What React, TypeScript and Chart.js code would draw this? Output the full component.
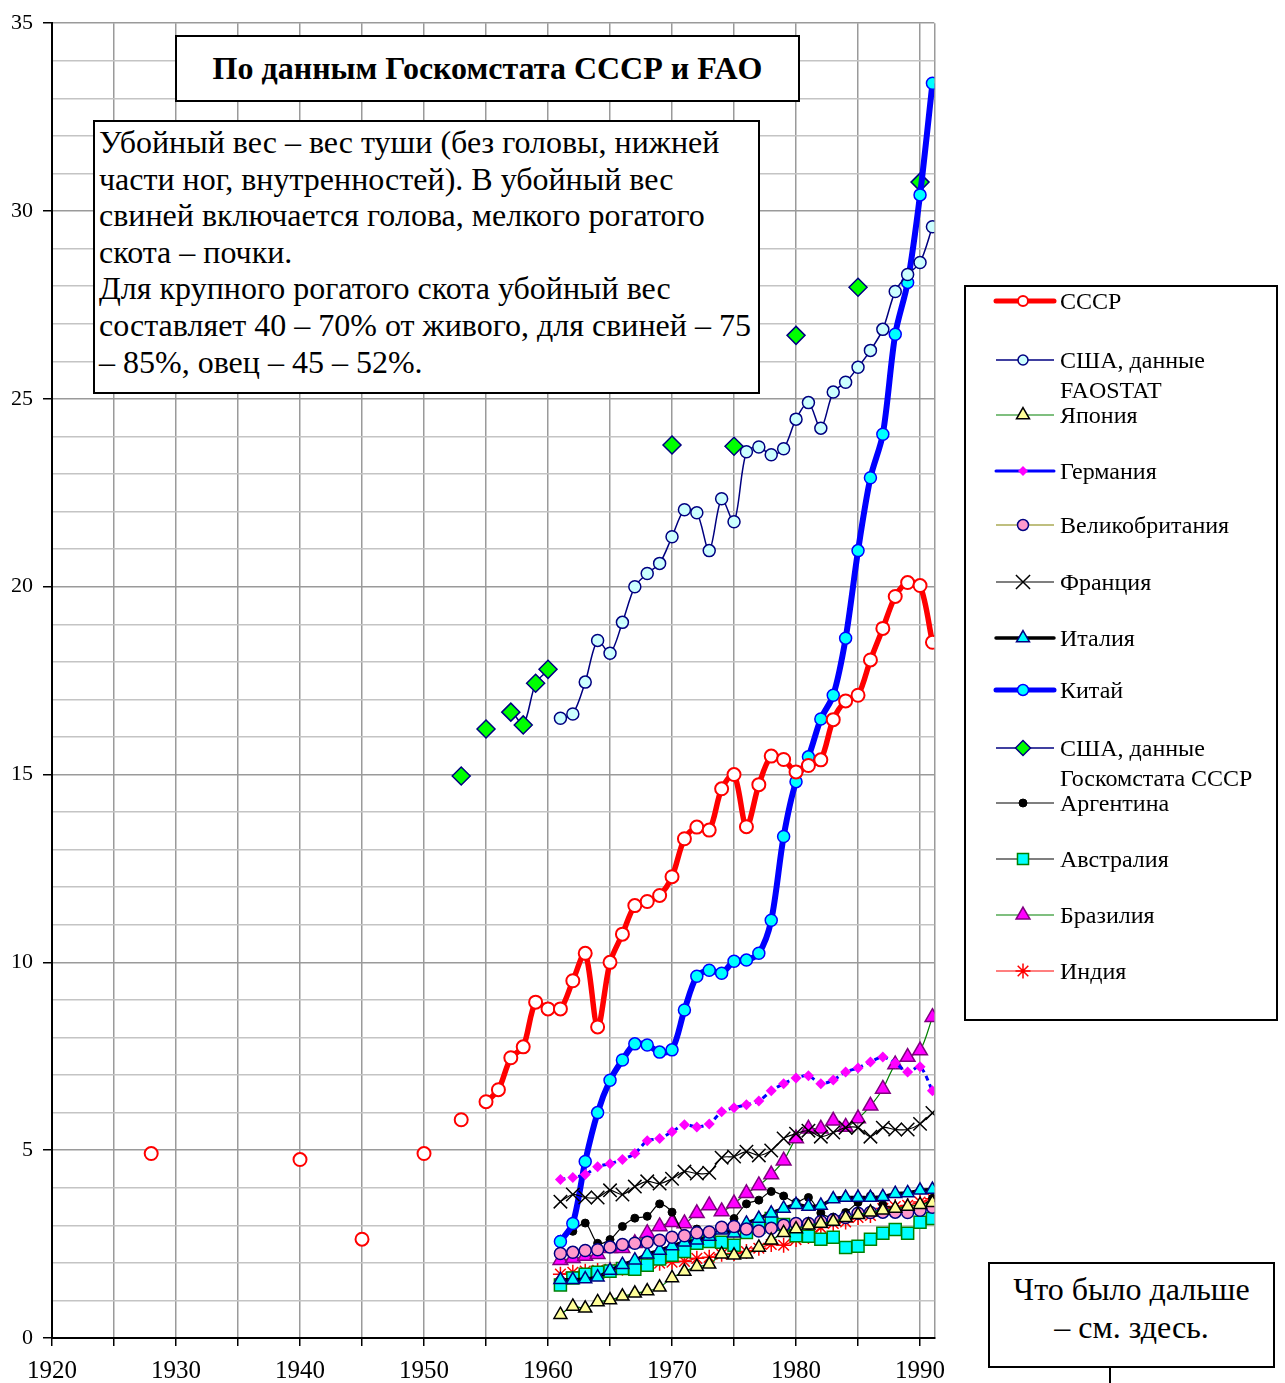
import React, { useEffect, useRef } from 'react';
import { Chart, registerables } from 'chart.js';
import { drawPoint } from 'chart.js/helpers';

Chart.register(...registerables);

const SERIF = '"Liberation Serif", "Times New Roman", serif';

// ---------------- data ----------------
const countryYears = [1961, 1962, 1963, 1964, 1965, 1966, 1967, 1968, 1969, 1970, 1971, 1972, 1973, 1974, 1975, 1976, 1977, 1978, 1979, 1980, 1981, 1982, 1983, 1984, 1985, 1986, 1987, 1988, 1989, 1990, 1991];

const ussrYears = [1928, 1940, 1945, 1950, 1953, 1955, 1956, 1957, 1958, 1959, 1960, 1961, 1962, 1963, 1964, 1965, 1966, 1967, 1968, 1969, 1970, 1971, 1972, 1973, 1974, 1975, 1976, 1977, 1978, 1979, 1980, 1981, 1982, 1983, 1984, 1985, 1986, 1987, 1988, 1989, 1990, 1991];
const ussrValues = [4.91, 4.75, 2.63, 4.91, 5.81, 6.29, 6.61, 7.46, 7.75, 8.94, 8.76, 8.76, 9.51, 10.24, 8.28, 10.0, 10.75, 11.51, 11.62, 11.78, 12.28, 13.29, 13.6, 13.52, 14.62, 15.0, 13.61, 14.73, 15.49, 15.4, 15.07, 15.24, 15.39, 16.46, 16.96, 17.11, 18.05, 18.89, 19.74, 20.11, 20.03, 18.52];

const usaFaoValues = [16.5, 16.61, 17.46, 18.57, 18.23, 19.05, 20.0, 20.35, 20.62, 21.33, 22.05, 21.97, 20.96, 22.34, 21.73, 23.59, 23.72, 23.51, 23.67, 24.46, 24.9, 24.22, 25.18, 25.44, 25.84, 26.29, 26.85, 27.86, 28.31, 28.63, 29.58];
const japanValues = [0.62, 0.84, 0.79, 0.96, 1.01, 1.11, 1.19, 1.25, 1.35, 1.6, 1.77, 1.9, 1.96, 2.23, 2.2, 2.23, 2.41, 2.6, 2.8, 2.9, 3.0, 3.05, 3.1, 3.2, 3.28, 3.35, 3.4, 3.45, 3.5, 3.55, 3.6];
const germanyValues = [4.22, 4.27, 4.35, 4.56, 4.64, 4.75, 4.91, 5.25, 5.31, 5.49, 5.68, 5.62, 5.7, 6.02, 6.13, 6.21, 6.31, 6.58, 6.77, 6.92, 6.98, 6.77, 6.87, 7.08, 7.19, 7.35, 7.48, 7.32, 7.08, 7.22, 6.58];
const ukValues = [2.25, 2.28, 2.33, 2.35, 2.42, 2.49, 2.52, 2.55, 2.6, 2.68, 2.72, 2.8, 2.82, 2.95, 2.97, 2.9, 2.85, 2.92, 3.0, 3.05, 3.05, 3.1, 3.15, 3.21, 3.32, 3.34, 3.35, 3.35, 3.34, 3.4, 3.48];
const franceValues = [3.63, 3.82, 3.74, 3.74, 3.93, 3.82, 4.03, 4.17, 4.11, 4.24, 4.43, 4.38, 4.4, 4.8, 4.83, 4.96, 4.86, 4.99, 5.31, 5.44, 5.52, 5.36, 5.47, 5.6, 5.6, 5.36, 5.6, 5.55, 5.55, 5.7, 5.99];
const italyValues = [1.55, 1.55, 1.57, 1.62, 1.8, 1.95, 2.07, 2.23, 2.33, 2.45, 2.55, 2.6, 2.7, 2.87, 2.79, 3.05, 3.18, 3.32, 3.45, 3.55, 3.5, 3.53, 3.7, 3.74, 3.74, 3.74, 3.76, 3.84, 3.86, 3.93, 3.95];
const chinaValues = [2.57, 3.05, 4.7, 6.0, 6.86, 7.4, 7.83, 7.8, 7.61, 7.67, 8.73, 9.63, 9.79, 9.71, 10.03, 10.06, 10.24, 11.12, 13.35, 14.81, 15.47, 16.48, 17.11, 18.63, 20.96, 22.9, 24.06, 26.72, 28.1, 30.43, 33.4];

const usaGksYears = [1953, 1955, 1957, 1958, 1959, 1960, 1970, 1975, 1980, 1985, 1990];
const usaGksValues = [14.96, 16.21, 16.66, 16.32, 17.43, 17.8, 23.77, 23.74, 26.69, 27.97, 30.77];

const argentinaValues = [2.63, 2.84, 3.06, 2.52, 2.62, 2.97, 3.19, 3.24, 3.57, 3.35, 2.78, 2.9, 2.83, 2.89, 3.18, 3.57, 3.67, 3.9, 3.78, 3.61, 3.74, 3.33, 3.22, 3.34, 3.61, 3.78, 3.55, 3.45, 3.42, 3.5, 3.72];
const australiaValues = [1.41, 1.6, 1.7, 1.75, 1.78, 1.85, 1.83, 1.94, 2.1, 2.2, 2.3, 2.52, 2.57, 2.55, 2.47, 2.81, 2.95, 3.18, 3.02, 2.72, 2.71, 2.63, 2.68, 2.41, 2.44, 2.63, 2.79, 2.89, 2.79, 3.08, 3.18];
const brazilValues = [2.07, 2.12, 2.18, 2.23, 2.39, 2.39, 2.52, 2.79, 2.97, 3.08, 3.05, 3.32, 3.53, 3.37, 3.58, 3.85, 4.06, 4.35, 4.72, 5.31, 5.57, 5.57, 5.78, 5.62, 5.84, 6.18, 6.63, 7.28, 7.48, 7.65, 8.54];
const indiaValues = [1.7, 1.75, 1.78, 1.8, 1.83, 1.86, 1.88, 1.99, 1.99, 2.02, 2.04, 2.12, 2.15, 2.23, 2.25, 2.3, 2.39, 2.49, 2.47, 2.62, 2.7, 2.94, 3.05, 3.09, 3.21, 3.26, 3.45, 3.5, 3.53, 3.62, 3.71];

const xTickValues = [1920, 1925, 1930, 1935, 1940, 1945, 1950, 1955, 1960, 1965, 1970, 1975, 1980, 1985, 1990, 1991.15];
const yTickValues = [0, 1, 2, 3, 4, 5, 6, 7, 8, 9, 10, 11, 12, 13, 14, 15, 16, 17, 18, 19, 20, 21, 22, 23, 24, 25, 26, 27, 28, 29, 30, 31, 32, 33, 34, 35];

const pts = (xs: number[], ys: number[]) => xs.map((x, i) => ({ x, y: ys[i] }));

// ---------------- series styles ----------------
type Series = {
  label: string[];
  xs: number[];
  ys: number[];
  color: string;
  lw: number;
  dash?: number[];
  style: string;
  r: number;
  fill: string;
  stroke: string;
  bw: number;
  gaps?: boolean;
  legendY: number;
  legendR?: number;
};

const series: Series[] = [
  { label: ['СССР'], xs: ussrYears, ys: ussrValues, color: '#FF0000', lw: 5.5, style: 'circle', r: 6.5, fill: '#FFFFFF', stroke: '#FF0000', bw: 2, gaps: true, legendY: 301, legendR: 5 },
  { label: ['США, данные', 'FAOSTAT'], xs: countryYears, ys: usaFaoValues, color: '#000080', lw: 1.5, style: 'circle', r: 6, fill: '#CCFFFF', stroke: '#000080', bw: 1.5, legendY: 360, legendR: 5 },
  { label: ['Япония'], xs: countryYears, ys: japanValues, color: '#008000', lw: 1.2, style: 'triangle', r: 7.5, fill: '#FFFF99', stroke: '#000000', bw: 1.5, legendY: 415, legendR: 7.5 },
  { label: ['Германия'], xs: countryYears, ys: germanyValues, color: '#0000FF', lw: 3, dash: [5, 4], style: 'rectRot', r: 5.5, fill: '#FF00FF', stroke: '#FF00FF', bw: 0, legendY: 471, legendR: 5 },
  { label: ['Великобритания'], xs: countryYears, ys: ukValues, color: '#808000', lw: 1.2, style: 'circle', r: 6, fill: '#FF99CC', stroke: '#000080', bw: 1.5, legendY: 525, legendR: 5.5 },
  { label: ['Франция'], xs: countryYears, ys: franceValues, color: '#000000', lw: 1.2, style: 'crossRot', r: 9.5, fill: '#000000', stroke: '#000000', bw: 1.5, legendY: 582, legendR: 10 },
  { label: ['Италия'], xs: countryYears, ys: italyValues, color: '#000000', lw: 3.5, style: 'triangle', r: 7.5, fill: '#00FFFF', stroke: '#000080', bw: 1.5, legendY: 638, legendR: 7.5 },
  { label: ['Китай'], xs: countryYears, ys: chinaValues, color: '#0000FF', lw: 6, style: 'circle', r: 6, fill: '#00FFFF', stroke: '#0000FF', bw: 1.5, legendY: 690, legendR: 5.5 },
  { label: ['США, данные', 'Госкомстата СССР'], xs: usaGksYears, ys: usaGksValues, color: '#000080', lw: 1.5, style: 'rectRot', r: 9, fill: '#00FF00', stroke: '#000080', bw: 1.5, gaps: true, legendY: 748, legendR: 7.5 },
  { label: ['Аргентина'], xs: countryYears, ys: argentinaValues, color: '#000000', lw: 1.2, style: 'circle', r: 4, fill: '#000000', stroke: '#000000', bw: 1, legendY: 803, legendR: 4 },
  { label: ['Австралия'], xs: countryYears, ys: australiaValues, color: '#000000', lw: 1.2, style: 'rect', r: 8.5, fill: '#00FFFF', stroke: '#008000', bw: 1.5, legendY: 859, legendR: 7.8 },
  { label: ['Бразилия'], xs: countryYears, ys: brazilValues, color: '#008000', lw: 1.2, style: 'triangle', r: 8.5, fill: '#FF00FF', stroke: '#800080', bw: 1.5, legendY: 915, legendR: 8 },
  { label: ['Индия'], xs: countryYears, ys: indiaValues, color: '#FF0000', lw: 1.2, style: 'star', r: 7.5, fill: '#FF0000', stroke: '#FF0000', bw: 1.5, legendY: 971, legendR: 7.5 },
];

const legendPlugin = {
  id: 'customLegend',
  afterDraw(chart: any) {
    const ctx = chart.ctx as CanvasRenderingContext2D;
    ctx.save();
    ctx.fillStyle = '#FFFFFF';
    ctx.fillRect(965, 286, 312, 734);
    ctx.strokeStyle = '#000000';
    ctx.lineWidth = 2;
    ctx.strokeRect(965, 286, 312, 734);
    for (const s of series) {
      const y = s.legendY;
      ctx.beginPath();
      ctx.setLineDash([]);
      ctx.lineCap = s.lw > 2 ? 'round' : 'butt';
      ctx.strokeStyle = s.color;
      ctx.lineWidth = s.lw > 2 ? Math.min(s.lw, 5) : s.lw;
      ctx.moveTo(996, y);
      ctx.lineTo(1054, y);
      ctx.stroke();
      ctx.fillStyle = s.fill;
      ctx.strokeStyle = s.stroke;
      ctx.lineWidth = s.bw;
      drawPoint(ctx, { pointStyle: s.style as any, radius: s.legendR ?? s.r, rotation: 0, borderWidth: s.bw } as any, 1023, y);
      ctx.fillStyle = '#000000';
      ctx.font = `24px ${SERIF}`;
      ctx.textAlign = 'left';
      ctx.textBaseline = 'middle';
      s.label.forEach((line, i) => ctx.fillText(line, 1060, y + 2 + i * 30));
    }
    ctx.restore();
  },
};

export default function App() {
  const ref = useRef<HTMLCanvasElement | null>(null);

  useEffect(() => {
    if (!ref.current) return;
    const datasets = series.map((s) => ({
      label: s.label.join(' '),
      data: pts(s.xs, s.ys),
      borderColor: s.color,
      backgroundColor: s.fill,
      borderWidth: s.lw,
      borderDash: s.dash,
      tension: 0.3,
      pointStyle: s.style,
      pointRadius: s.r,
      pointBackgroundColor: s.fill,
      pointBorderColor: s.stroke,
      pointBorderWidth: s.bw,
      pointHoverRadius: s.r,
      fill: false,
      spanGaps: true,
      segment: s.gaps
        ? { borderColor: (c: any) => (c.p1.parsed.x - c.p0.parsed.x > 1.5 ? 'rgba(0,0,0,0)' : s.color) }
        : undefined,
    }));

    const chart = new Chart(ref.current, {
      type: 'line',
      data: { datasets } as any,
      plugins: [legendPlugin],
      options: {
        responsive: false,
        animation: false,
        layout: { padding: { left: 0, right: 1285 - 934.3, top: 19, bottom: 0 } },
        plugins: { legend: { display: false }, tooltip: { enabled: false } },
        scales: {
          x: {
            type: 'linear',
            min: 1920,
            max: 1991.15,
            afterBuildTicks: (scale: any) => {
              scale.ticks = xTickValues.map((v) => ({ value: v }));
            },
            afterFit: (scale: any) => {
              scale.height = 45;
            },
            ticks: {
              autoSkip: false,
              maxRotation: 0,
              padding: 10,
              color: '#000000',
              font: { family: SERIF, size: 25 },
              callback: (v: any) => (Number(v) % 10 === 0 ? String(v) : ''),
            },
            grid: {
              color: '#9A9A9A',
              lineWidth: 1.5,
              tickLength: 8,
              tickColor: (c: any) => (c.tick && c.tick.value % 5 === 0 ? '#000000' : 'rgba(0,0,0,0)'),
            },
            border: { color: '#000000', width: 2 },
          },
          y: {
            type: 'linear',
            min: 0,
            max: 35,
            afterBuildTicks: (scale: any) => {
              scale.ticks = yTickValues.map((v) => ({ value: v }));
            },
            afterFit: (scale: any) => {
              scale.width = 52;
            },
            ticks: {
              autoSkip: false,
              padding: 10,
              color: '#000000',
              font: { family: SERIF, size: 22 },
              callback: (v: any) => (Number(v) % 5 === 0 ? String(v) : ''),
            },
            grid: {
              color: (c: any) => (c.tick && c.tick.value % 5 === 0 ? '#9A9A9A' : '#C4C4C4'),
              lineWidth: 1.5,
              tickLength: 9,
              tickColor: (c: any) => (c.tick && c.tick.value % 5 === 0 ? '#000000' : 'rgba(0,0,0,0)'),
            },
            border: { color: '#000000', width: 2 },
          },
        },
      } as any,
    });
    return () => chart.destroy();
  }, []);

  const boxBase: React.CSSProperties = {
    position: 'absolute',
    boxSizing: 'border-box',
    background: '#FFFFFF',
    border: '2px solid #000000',
    fontFamily: SERIF,
    color: '#000000',
  };

  return (
    <div style={{ position: 'absolute', left: 0, top: 0, width: 1285, height: 1383, background: '#FFFFFF', overflow: 'hidden' }}>
      <canvas ref={ref} width={1285} height={1383} style={{ position: 'absolute', left: 0, top: 0, width: 1285, height: 1383 }} />
      <div style={{ ...boxBase, left: 175, top: 35, width: 625, height: 67, fontWeight: 'bold', fontSize: 32, lineHeight: '62px', textAlign: 'center' }}>
        По данным Госкомстата СССР и FAO
      </div>
      <div style={{ ...boxBase, left: 93, top: 120, width: 667, height: 274, fontSize: 32, lineHeight: '36.6px', padding: '2px 0 0 4px', whiteSpace: 'pre' }}>
        {'Убойный вес – вес туши (без головы, нижней\nчасти ног, внутренностей). В убойный вес\nсвиней включается голова, мелкого рогатого\nскота – почки.\nДля крупного рогатого скота убойный вес\nсоставляет 40 – 70% от живого, для свиней – 75\n– 85%, овец – 45 – 52%.'}
      </div>
      <div style={{ ...boxBase, left: 988, top: 1262, width: 287, height: 106, fontSize: 32, lineHeight: '38px', textAlign: 'center', paddingTop: 6 }}>
        {'Что было дальше'}
        <br />
        {'– см. здесь.'}
      </div>
      <div style={{ position: 'absolute', left: 1109, top: 1367, width: 2, height: 16, background: '#000000' }} />
    </div>
  );
}
